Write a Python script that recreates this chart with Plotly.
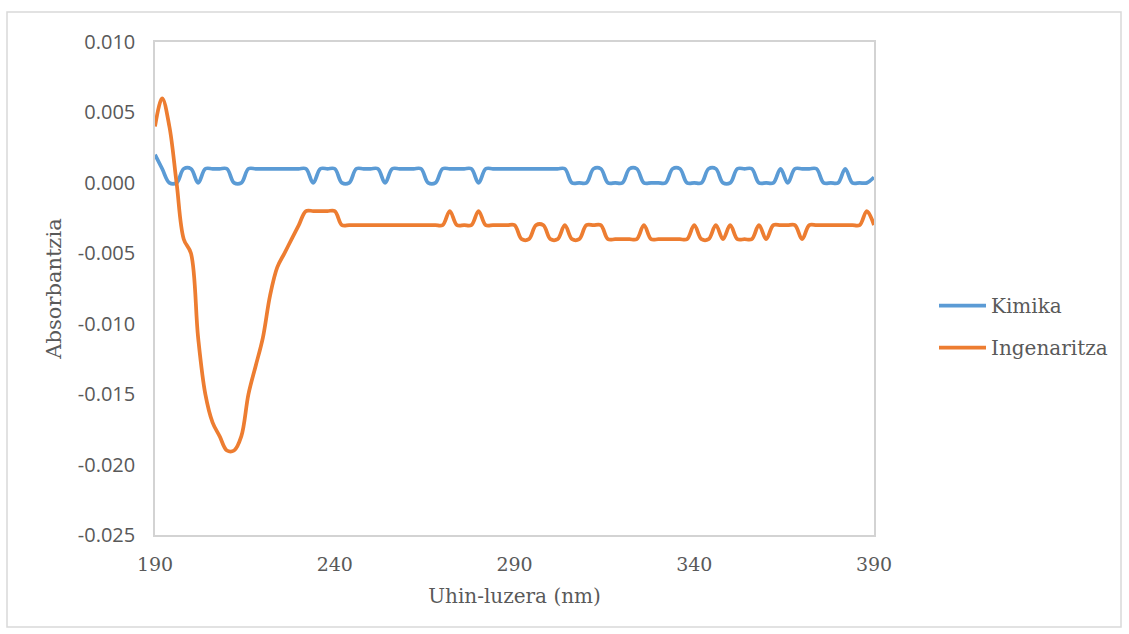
import plotly.graph_objects as go

# Absorbance spectra, sampled every 2 nm from 190 to 390 nm
wavelength = list(range(190, 391, 2))

kimika = [
    0.002, 0.001, 0.000, 0.000, 0.001, 0.001, 0.000, 0.001, 0.001, 0.001,
    0.001, 0.000, 0.000, 0.001, 0.001, 0.001, 0.001, 0.001, 0.001, 0.001,
    0.001, 0.001, 0.000, 0.001, 0.001, 0.001, 0.000, 0.000, 0.001, 0.001,
    0.001, 0.001, 0.000, 0.001, 0.001, 0.001, 0.001, 0.001, 0.000, 0.000,
    0.001, 0.001, 0.001, 0.001, 0.001, 0.000, 0.001, 0.001, 0.001, 0.001,
    0.001, 0.001, 0.001, 0.001, 0.001, 0.001, 0.001, 0.001, 0.000, 0.000,
    0.000, 0.001, 0.001, 0.000, 0.000, 0.000, 0.001, 0.001, 0.000, 0.000,
    0.000, 0.000, 0.001, 0.001, 0.000, 0.000, 0.000, 0.001, 0.001, 0.000,
    0.000, 0.001, 0.001, 0.001, 0.000, 0.000, 0.000, 0.001, 0.000, 0.001,
    0.001, 0.001, 0.001, 0.000, 0.000, 0.000, 0.001, 0.000, 0.000, 0.000,
    0.0004,
]

ingenaritza = [
    0.004, 0.006, 0.004, 0.000, -0.004, -0.005, -0.011, -0.015, -0.017, -0.018,
    -0.019, -0.019, -0.018, -0.015, -0.013, -0.011, -0.008, -0.006, -0.005, -0.004,
    -0.003, -0.002, -0.002, -0.002, -0.002, -0.002, -0.003, -0.003, -0.003, -0.003,
    -0.003, -0.003, -0.003, -0.003, -0.003, -0.003, -0.003, -0.003, -0.003, -0.003,
    -0.003, -0.002, -0.003, -0.003, -0.003, -0.002, -0.003, -0.003, -0.003, -0.003,
    -0.003, -0.004, -0.004, -0.003, -0.003, -0.004, -0.004, -0.003, -0.004, -0.004,
    -0.003, -0.003, -0.003, -0.004, -0.004, -0.004, -0.004, -0.004, -0.003, -0.004,
    -0.004, -0.004, -0.004, -0.004, -0.004, -0.003, -0.004, -0.004, -0.003, -0.004,
    -0.003, -0.004, -0.004, -0.004, -0.003, -0.004, -0.003, -0.003, -0.003, -0.003,
    -0.004, -0.003, -0.003, -0.003, -0.003, -0.003, -0.003, -0.003, -0.003, -0.002,
    -0.003,
]

x_ticks = [190, 240, 290, 340, 390]
y_ticks = [0.010, 0.005, 0.000, -0.005, -0.010, -0.015, -0.020, -0.025]
y_tick_text = ["0.010", "0.005", "0.000", "-0.005", "-0.010", "-0.015", "-0.020", "-0.025"]

W, H = 1129, 634
L, R, T, B = 155, 874, 42, 535  # plot-area edges in pixels
PW, PH = R - L, B - T

TEXT = "#595959"
FRAME = "#d3d3d3"
SERIF = "DejaVu Serif"

fig = go.Figure()
fig.add_trace(go.Scatter(
    x=wavelength, y=kimika, mode="lines", name="Kimika", legendgroup="kimika",
    line=dict(color="#5B9BD5", width=3.75, shape="spline", smoothing=1.0),
))
fig.add_trace(go.Scatter(
    x=wavelength, y=ingenaritza, mode="lines", name="Ingenaritza", legendgroup="ingenaritza",
    line=dict(color="#ED7D31", width=3.75, shape="spline", smoothing=1.0),
))


def px_x(p):
    return (p - L) / PW


def px_y(p):
    return (B - p) / PH


fig.update_layout(
    width=W, height=H,
    margin=dict(l=L, r=W - R, t=T, b=H - B, autoexpand=False),
    paper_bgcolor="white", plot_bgcolor="white",
    showlegend=True,
    legend=dict(
        x=px_x(934), y=px_y(286), xanchor="left", yanchor="top",
        font=dict(family=SERIF, size=20, color=TEXT),
        tracegroupgap=13, bgcolor="rgba(0,0,0,0)", itemwidth=47,
    ),
    xaxis=dict(
        range=[190, 390], tickvals=x_ticks, ticktext=[str(v) for v in x_ticks],
        showgrid=False, zeroline=False, showline=True, linecolor=FRAME,
        linewidth=1.5, mirror=True, ticks="",
        tickfont=dict(family=SERIF, size=19, color=TEXT), ticklabelstandoff=11,
        title=dict(text="Uhin-luzera (nm)", font=dict(family=SERIF, size=20, color=TEXT), standoff=15),
    ),
    yaxis=dict(
        range=[-0.025, 0.010], tickvals=y_ticks, ticktext=y_tick_text,
        showgrid=False, zeroline=False, showline=True, linecolor=FRAME,
        linewidth=1.5, mirror=True, ticks="",
        tickfont=dict(family="Open Sans", size=20, color=TEXT), ticklabelstandoff=14,
        title=dict(text="Absorbantzia", font=dict(family=SERIF, size=21, color=TEXT), standoff=10),
    ),
    shapes=[dict(
        type="rect", xref="paper", yref="paper",
        x0=px_x(7), x1=px_x(1121), y0=px_y(627), y1=px_y(12),
        line=dict(color="#d9d9d9", width=1.5), fillcolor="rgba(0,0,0,0)", layer="below",
    )],
)

fig.write_html("out.html")
